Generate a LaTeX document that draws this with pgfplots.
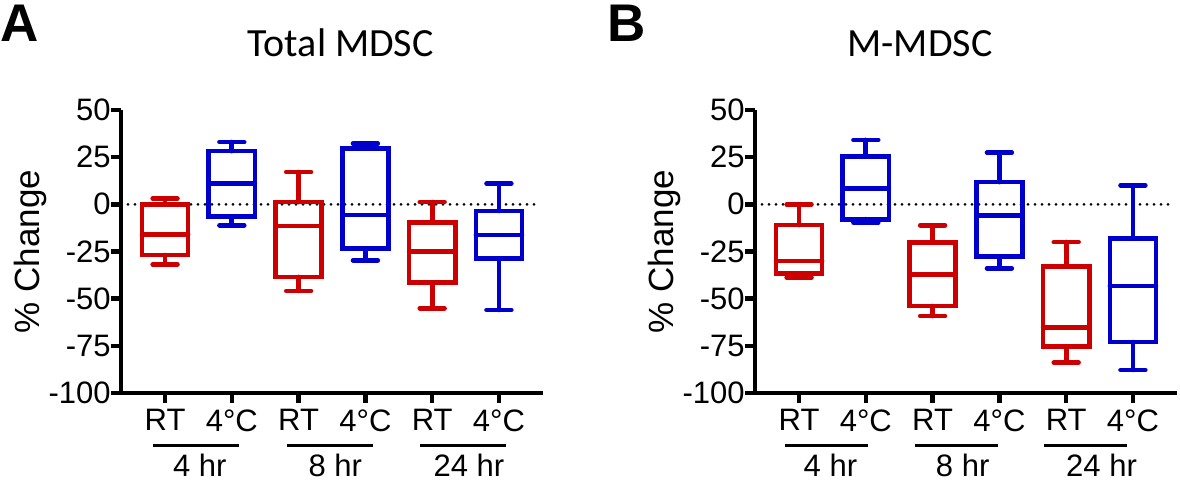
\documentclass[border=0pt]{standalone}
\usepackage{pgfplots}
\pgfplotsset{compat=1.18}
\usepgfplotslibrary{statistics}
\usepackage{fontspec}
\setmainfont{Liberation Sans}
\newfontfamily\calibri{Carlito}
\definecolor{myred}{RGB}{204,0,0}
\definecolor{myblue}{RGB}{0,0,204}
\tikzset{
 zeroline/.style={black, line width=1.5pt, line cap=round, dash pattern=on 0pt off 3.5pt},
 grp/.style={anchor=north, inner sep=0pt, font=\fontsize{15.5}{18}\selectfont},
 grpbar/.style={line width=1.6pt},
}
\pgfplotsset{
 panel/.style={
  width=211pt, height=141.5pt, scale only axis,
  xmin=0.34, xmax=6.66, ymin=-100, ymax=50,
  axis x line=bottom, axis y line=left,
  axis line style={-, line width=2.2pt, black},
  tick style={line width=2.2pt, black},
  tick align=outside, major tick length=5pt,
  xtick={1,2,3,4,5,6}, xticklabels={RT,4°C,RT,4°C,RT,4°C},
  ytick={-100,-75,-50,-25,0,25,50},
  yticklabels={-100,-75,-50,-25,0,25,50},
  tick label style={font=\fontsize{15.5}{18}\selectfont},
  xticklabel style={inner sep=0pt, yshift=-3pt},
  yticklabel style={inner sep=0pt},
  ylabel={\% Change},
  ylabel style={font=\fontsize{17.5}{20}\selectfont, at={(axis description cs:-0.192,0.5)}, anchor=base},
  clip=false,
 },
 rt/.style={myred, line width=2.35pt, line cap=round, solid, mark=none},
 cold/.style={myblue, line width=2.35pt, line cap=round, solid, mark=none},
 bp/.style={boxplot prepared={draw direction=y, box extend=0.69, whisker extend=0.37, #1}},
}
\begin{document}
\begin{tikzpicture}
% Panel A
\begin{axis}[panel, at={(60.5pt,44pt)}, anchor=south west,
  title={Total MDSC},
  title style={font=\calibri\fontsize{20}{24}\selectfont, at={(axis description cs:0.521,1.145)}, anchor=base, yshift=0pt}]
\draw[zeroline] (axis cs:0.34,0) -- (axis cs:6.62,0);
\addplot[rt, bp={draw position=1, lower whisker=-31.8, lower quartile=-26.9, median=-15.9, upper quartile=0, upper whisker=3}] coordinates {};
\addplot[cold, bp={draw position=2, lower whisker=-11.1, lower quartile=-6.5, median=11.1, upper quartile=28.2, upper whisker=33}] coordinates {};
\addplot[rt, bp={draw position=3, lower whisker=-45.9, lower quartile=-38.5, median=-11.5, upper quartile=1.2, upper whisker=17.1}] coordinates {};
\addplot[cold, bp={draw position=4, lower whisker=-29.7, lower quartile=-23.3, median=-5.7, upper quartile=29.5, upper whisker=32.2}] coordinates {};
\addplot[rt, bp={draw position=5, lower whisker=-55.1, lower quartile=-41.5, median=-25, upper quartile=-9.7, upper whisker=1.2}] coordinates {};
\addplot[cold, bp={draw position=6, lower whisker=-56, lower quartile=-28.6, median=-16.2, upper quartile=-3.5, upper whisker=11}] coordinates {};
\draw[grpbar] (axis cs:0.82,-128) -- (axis cs:2.11,-128);
\draw[grpbar] (axis cs:2.82,-128) -- (axis cs:4.11,-128);
\draw[grpbar] (axis cs:4.82,-128) -- (axis cs:6.11,-128);
\node[grp] at (axis cs:1.52,-132) {4 hr};
\node[grp] at (axis cs:3.55,-132) {8 hr};
\node[grp] at (axis cs:5.55,-132) {24 hr};
\end{axis}
% Panel B
\begin{axis}[panel, at={(377.5pt,44pt)}, anchor=south west,
  title={M-MDSC},
  title style={font=\calibri\fontsize{20}{24}\selectfont, at={(axis description cs:0.391,1.145)}, anchor=base, yshift=0pt}]
\draw[zeroline] (axis cs:0.34,0) -- (axis cs:6.62,0);
\addplot[rt, bp={draw position=1, lower whisker=-38.9, lower quartile=-36.6, median=-30, upper quartile=-11, upper whisker=0}] coordinates {};
\addplot[cold, bp={draw position=2, lower whisker=-9.7, lower quartile=-7.9, median=8.3, upper quartile=25.3, upper whisker=34.1}] coordinates {};
\addplot[rt, bp={draw position=3, lower whisker=-59.2, lower quartile=-53.9, median=-37.1, upper quartile=-20.3, upper whisker=-11.1}] coordinates {};
\addplot[cold, bp={draw position=4, lower whisker=-33.9, lower quartile=-27.7, median=-5.8, upper quartile=11.8, upper whisker=27.4}] coordinates {};
\addplot[rt, bp={draw position=5, lower whisker=-83.9, lower quartile=-75.4, median=-65.4, upper quartile=-33, upper whisker=-20}] coordinates {};
\addplot[cold, bp={draw position=6, lower whisker=-87.8, lower quartile=-73, median=-43.3, upper quartile=-18.2, upper whisker=10.1}] coordinates {};
\draw[grpbar] (axis cs:0.79,-128) -- (axis cs:2.03,-128);
\draw[grpbar] (axis cs:2.74,-128) -- (axis cs:3.98,-128);
\draw[grpbar] (axis cs:4.67,-128) -- (axis cs:5.91,-128);
\node[grp] at (axis cs:1.47,-132) {4 hr};
\node[grp] at (axis cs:3.45,-132) {8 hr};
\node[grp] at (axis cs:5.53,-132) {24 hr};
\end{axis}
\node[anchor=base west, inner sep=0pt, font=\bfseries\fontsize{26.5}{30}\selectfont] at (0pt,219.5pt) {A};
\node[anchor=base west, inner sep=0pt, font=\bfseries\fontsize{26.5}{30}\selectfont] at (303.5pt,219.5pt) {B};
\pgfresetboundingbox
\useasboundingbox (0pt,0pt) rectangle (590pt,240.5pt);
\end{tikzpicture}
\end{document}
